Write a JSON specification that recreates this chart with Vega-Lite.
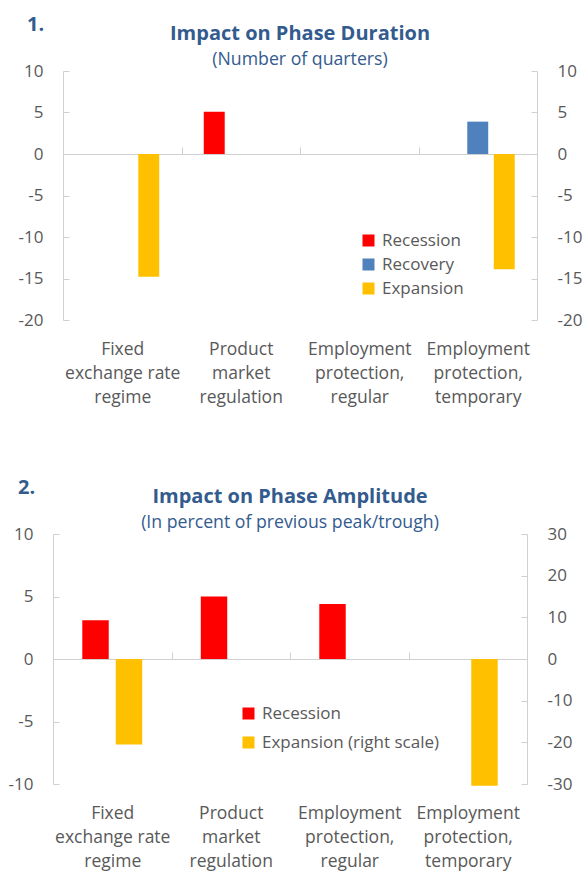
{
  "$schema": "https://vega.github.io/schema/vega-lite/v6.json",
  "padding": {"top": 14, "left": 5, "right": 5, "bottom": 5},
  "config": {
    "view": {"stroke": null},
    "font": "Open Sans",
    "axis": {"labelColor": "#595959", "labelFontSize": 17, "domainColor": "#d0d0d0", "tickColor": "#d0d0d0", "grid": false},
    "legend": {"labelColor": "#595959", "labelFontSize": 17, "symbolType": "square", "symbolSize": 144, "symbolStrokeWidth": 0, "labelOffset": 5, "labelLimit": 400}
  },
  "resolve": {"scale": {"color": "independent", "xOffset": "independent"}, "legend": {"color": "independent"}},
  "spacing": 71,
  "columns": 1,
  "align": "none",
  "concat": [
    {
      "title": {"text": "1.", "anchor": "start", "fontSize": 20, "fontWeight": "bold", "color": "#335b8e", "offset": -11, "dx": 22},
      "vconcat": [
        {
          "width": 474,
          "height": 249,
          "title": {"text": "Impact on Phase Duration", "subtitle": "(Number of quarters)", "frame": "group", "anchor": "middle", "fontSize": 20, "fontWeight": "bold", "color": "#335b8e", "subtitleColor": "#335b8e", "subtitleFontSize": 17.7, "subtitlePadding": 7.5, "offset": -7},
          "data": {"values": [
            {"policy": "Fixed exchange rate regime", "phase": "Expansion", "value": -14.8},
            {"policy": "Product market regulation", "phase": "Recession", "value": 5.1},
            {"policy": "Employment protection, temporary", "phase": "Recovery", "value": 3.9},
            {"policy": "Employment protection, temporary", "phase": "Expansion", "value": -13.9}
          ]},
          "encoding": {
            "x": {"field": "policy", "type": "nominal",
              "scale": {"domain": ["Fixed exchange rate regime", "Product market regulation", "Employment protection, regular", "Employment protection, temporary"], "paddingInner": 0, "paddingOuter": 0},
              "axis": {"title": null, "orient": "bottom", "offset": -166, "labelAngle": 0, "tickSize": -7, "tickBand": "extent", "labelPadding": 193, "labelFontSize": 17.5, "labelLineHeight": 24,
                "labelExpr": "datum.label == 'Fixed exchange rate regime' ? ['Fixed', 'exchange rate', 'regime'] : datum.label == 'Product market regulation' ? ['Product', 'market', 'regulation'] : datum.label == 'Employment protection, regular' ? ['Employment', 'protection,', 'regular'] : datum.label == 'Employment protection, temporary' ? ['Employment', 'protection,', 'temporary'] : ''"}},
            "xOffset": {"field": "phase", "type": "nominal", "scale": {"domain": ["Recession", "Recovery", "Expansion"], "paddingInner": 0.21, "paddingOuter": 0.84}},
            "color": {"field": "phase", "type": "nominal",
              "scale": {"domain": ["Recession", "Recovery", "Expansion"], "range": ["#ff0000", "#4f81bd", "#ffc000"]},
              "legend": {"title": null, "orient": "none", "legendX": 297, "legendY": 161, "rowPadding": 6}}
          },
          "layer": [
            {
              "transform": [{"filter": "datum.phase != 'Expansion'"}],
              "mark": "bar",
              "encoding": {"y": {"field": "value", "type": "quantitative", "scale": {"domain": [-20, 10], "nice": false},
                "axis": {"title": null, "orient": "left", "values": [-20, -15, -10, -5, 0, 5, 10], "labelExpr": "'' + datum.value", "tickSize": -6, "labelPadding": 26, "minExtent": 58}}}
            },
            {
              "transform": [{"filter": "datum.phase == 'Expansion'"}],
              "mark": "bar",
              "encoding": {"y": {"field": "value", "type": "quantitative", "scale": {"domain": [-20, 10], "nice": false},
                "axis": {"title": null, "orient": "right", "values": [-20, -15, -10, -5, 0, 5, 10], "labelExpr": "'' + datum.value", "tickSize": -6, "labelPadding": 26}}}
            }
          ],
          "resolve": {"axis": {"y": "independent"}}
        }
      ]
    },
    {
      "title": {"text": "2.", "anchor": "start", "fontSize": 20, "fontWeight": "bold", "color": "#335b8e", "offset": -11, "dx": 10},
      "vconcat": [
        {
          "width": 474,
          "height": 250,
          "title": {"text": "Impact on Phase Amplitude", "subtitle": "(In percent of previous peak/trough)", "frame": "group", "anchor": "middle", "dx": -10, "fontSize": 20, "fontWeight": "bold", "color": "#335b8e", "subtitleColor": "#335b8e", "subtitleFontSize": 17.7, "subtitlePadding": 7.5, "offset": -7},
          "data": {"values": [
            {"policy": "Fixed exchange rate regime", "phase": "Recession", "value": 3.1},
            {"policy": "Fixed exchange rate regime", "phase": "Expansion", "value": -20.5},
            {"policy": "Product market regulation", "phase": "Recession", "value": 5.0},
            {"policy": "Employment protection, regular", "phase": "Recession", "value": 4.4},
            {"policy": "Employment protection, temporary", "phase": "Expansion", "value": -30.4}
          ]},
          "encoding": {
            "x": {"field": "policy", "type": "nominal",
              "scale": {"domain": ["Fixed exchange rate regime", "Product market regulation", "Employment protection, regular", "Employment protection, temporary"], "paddingInner": 0, "paddingOuter": 0, "range": [-10, 464]},
              "axis": {"title": null, "orient": "bottom", "offset": -125, "labelAngle": 0, "tickSize": -7, "tickBand": "extent", "labelPadding": 152, "labelFontSize": 17.5, "labelLineHeight": 24,
                "labelExpr": "datum.label == 'Fixed exchange rate regime' ? ['Fixed', 'exchange rate', 'regime'] : datum.label == 'Product market regulation' ? ['Product', 'market', 'regulation'] : datum.label == 'Employment protection, regular' ? ['Employment', 'protection,', 'regular'] : datum.label == 'Employment protection, temporary' ? ['Employment', 'protection,', 'temporary'] : ''"}},
            "xOffset": {"field": "phase", "type": "nominal", "scale": {"domain": ["Recession", "Expansion"], "paddingInner": 0.21, "paddingOuter": 0.875}},
            "color": {"field": "phase", "type": "nominal",
              "scale": {"domain": ["Recession", "Expansion"], "range": ["#ff0000", "#ffc000"]},
              "legend": {"title": null, "orient": "none", "legendX": 177, "legendY": 171, "rowPadding": 11,
                "labelExpr": "datum.label == 'Expansion' ? 'Expansion (right scale)' : datum.label"}}
          },
          "layer": [
            {
              "transform": [{"filter": "datum.phase == 'Recession'"}],
              "mark": "bar",
              "encoding": {"y": {"field": "value", "type": "quantitative", "scale": {"domain": [-10, 10], "nice": false},
                "axis": {"title": null, "orient": "left", "offset": 10, "values": [-10, -5, 0, 5, 10], "labelExpr": "'' + datum.value", "tickSize": -6, "labelPadding": 26}}}
            },
            {
              "transform": [{"filter": "datum.phase == 'Expansion'"}],
              "mark": "bar",
              "encoding": {"y": {"field": "value", "type": "quantitative", "scale": {"domain": [-30, 30], "nice": false},
                "axis": {"title": null, "orient": "right", "offset": -10, "values": [-30, -20, -10, 0, 10, 20, 30], "labelExpr": "'' + datum.value", "tickSize": -6, "labelPadding": 26}}}
            }
          ],
          "resolve": {"scale": {"y": "independent"}}
        }
      ]
    }
  ]
}
